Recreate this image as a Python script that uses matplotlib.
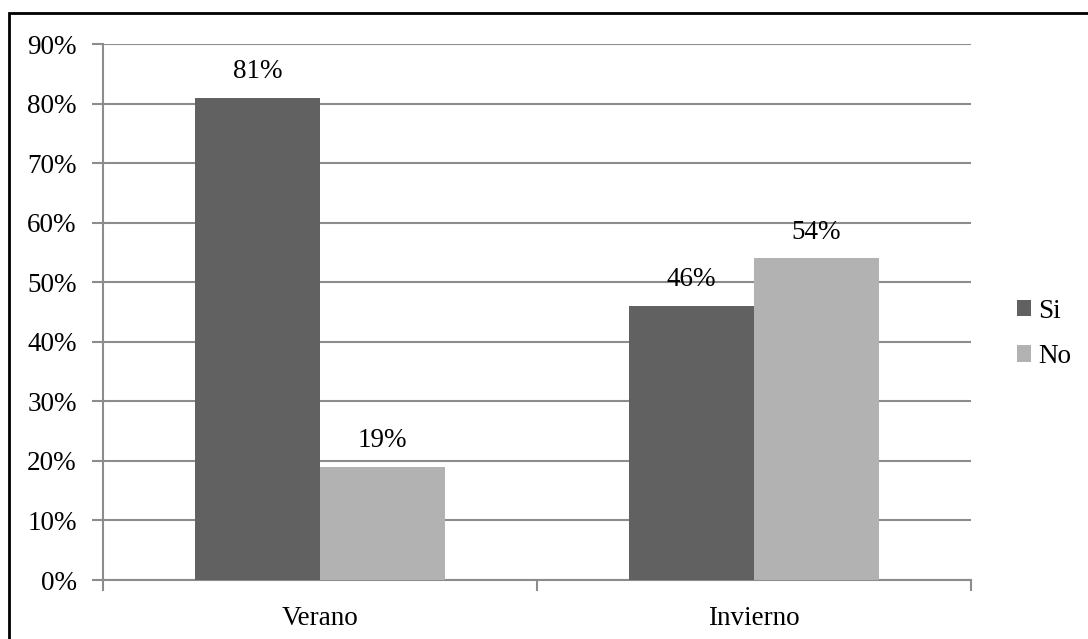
import matplotlib.pyplot as plt
import matplotlib.patches as patches
import numpy as np

plt.rcParams['font.family'] = ['Liberation Serif', 'DejaVu Serif']

categories = ['Verano', 'Invierno']
si = [81, 46]
no = [19, 54]
series_names = ['Si', 'No']

fs = 19.5

fig = plt.figure(figsize=(10.88, 6.39), dpi=100)
ax = fig.add_axes([0.0947, 0.0923, 0.7978, 0.8388])

# border round the chart (right and bottom edges fall outside the picture)
fig.patches.append(patches.Rectangle((0.0083, -0.05), 1.05, 1.0297, transform=fig.transFigure,
                                     fill=False, edgecolor='black', linewidth=2))

x = np.arange(len(categories))
w = 0.288
b1 = ax.bar(x - w / 2, si, w, color='#616161', label=series_names[0], zorder=3)
b2 = ax.bar(x + w / 2, no, w, color='#b2b2b2', label=series_names[1], zorder=3)

for bars in (b1, b2):
    for r in bars:
        ax.annotate(f'{int(r.get_height())}%', (r.get_x() + r.get_width() / 2, r.get_height()),
                    xytext=(0, 10), textcoords='offset points', ha='center', va='bottom', fontsize=fs)

ax.set_xlim(-0.5, 1.5)
ax.set_ylim(0, 90)
ax.set_yticks(range(0, 91, 10))
ax.set_yticklabels([f'{v}%' for v in range(0, 91, 10)], fontsize=fs)
ax.set_xticks(x)
ax.set_xticklabels(categories, fontsize=fs)
ax.set_xticks([-0.5, 0.5, 1.5], minor=True)
ax.tick_params(axis='x', which='major', length=0, pad=19)
ax.tick_params(axis='x', which='minor', length=8, width=1.5, color='#8c8c8c')
ax.tick_params(axis='y', length=8, width=1.5, color='#8c8c8c', pad=11)
ax.yaxis.grid(True, color='#8c8c8c', linewidth=1.5, zorder=0)
for s in ['top', 'right']:
    ax.spines[s].set_visible(False)
for s in ['left', 'bottom']:
    ax.spines[s].set_color('#8c8c8c')
    ax.spines[s].set_linewidth(1.5)

ax.legend(loc='center left', bbox_to_anchor=(1.04, 0.459), frameon=False, fontsize=fs,
          handlelength=0.55, handleheight=0.55, handletextpad=0.25, labelspacing=0.75,
          borderaxespad=0)

fig.savefig('out.png', dpi=100)
